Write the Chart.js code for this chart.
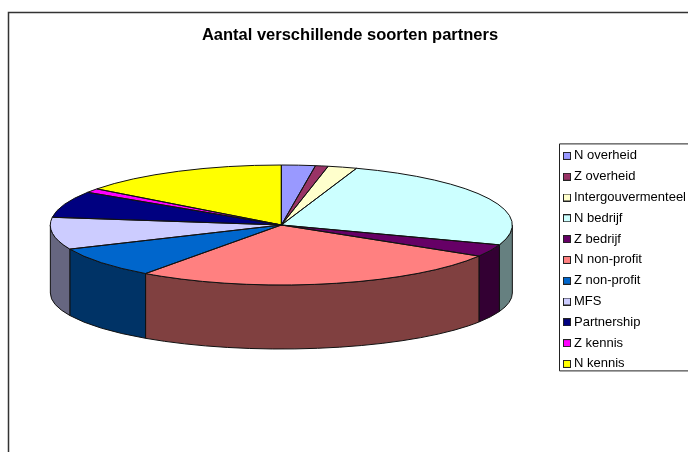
<!DOCTYPE html>
<html>
<head>
<meta charset="utf-8">
<title>Aantal verschillende soorten partners</title>
<script src="https://cdn.jsdelivr.net/npm/chart.js@4"></script>
<style>
  html, body { margin: 0; padding: 0; background: #fff; overflow: hidden; }
  canvas { display: block; }
</style>
</head>
<body>
<canvas id="chart" width="688" height="452"></canvas>
<script>
const categories = ['N overheid', 'Z overheid', 'Intergouvermenteel', 'N bedrijf', 'Z bedrijf',
  'N non-profit', 'Z non-profit', 'MFS', 'Partnership', 'Z kennis', 'N kennis'];
const partners = [8.5, 3.2, 7.3, 90.3, 11.9, 94.8, 30.3, 31.1, 25.6, 4, 53];
const topColors = ['#9999ff', '#993366', '#ffffcc', '#ccffff', '#660066',
  '#ff8080', '#0066cc', '#ccccff', '#000080', '#ff00ff', '#ffff00'];
const sideColors = ['#4d4d80', '#4d1a33', '#808066', '#668080', '#330033',
  '#804040', '#003366', '#666680', '#000040', '#800080', '#808000'];

// flattened pie: top face ellipse plus the rim below it
const tilt = 60 / 231;
const faceY = 225;
const rimBottomY = 293;
const rimBottomRy = 56;

function faceGeometry(chart) {
  const first = chart.getDatasetMeta(0).data[0];
  return { x: first.x, y: first.y, rx: first.outerRadius, ry: first.outerRadius * tilt };
}

// legend swatches as images, so they sit closer to their text
function swatch(color) {
  const c = document.createElement('canvas');
  c.width = 8;
  c.height = 8;
  const g = c.getContext('2d');
  g.fillStyle = color;
  g.fillRect(0, 0, 8, 8);
  g.strokeStyle = '#222';
  g.strokeRect(0.5, 0.5, 7, 7);
  return c;
}

const pie3d = {
  id: 'pie3d',
  beforeDraw(chart) {
    const ctx = chart.ctx;
    ctx.save();
    ctx.strokeStyle = '#333';
    ctx.lineWidth = 1.5;
    ctx.strokeRect(8.5, 12.5, 700, 500);
    // box round the legend
    const boxes = chart.legend.legendHitBoxes;
    const last = boxes[boxes.length - 1];
    ctx.beginPath();
    ctx.rect(559.5, boxes[0].top - 5.5, 140, last.top + last.height - boxes[0].top + 6);
    ctx.lineWidth = 1;
    ctx.strokeStyle = '#222';
    ctx.stroke();
    ctx.restore();
  },
  beforeDatasetsDraw(chart) {
    const ctx = chart.ctx;
    const f = faceGeometry(chart);
    ctx.save();
    ctx.strokeStyle = '#111';
    ctx.lineWidth = 1;
    chart.getDatasetMeta(0).data.forEach((arc, i) => {
      const a0 = Math.max(arc.startAngle, 0);
      const a1 = Math.min(arc.endAngle, Math.PI);
      if (a1 <= a0) return;
      ctx.beginPath();
      ctx.ellipse(f.x, faceY, f.rx, f.ry, 0, a0, a1);
      ctx.ellipse(f.x, rimBottomY, f.rx, rimBottomRy, 0, a1, a0, true);
      ctx.closePath();
      ctx.fillStyle = sideColors[i];
      ctx.fill();
      ctx.stroke();
    });
    ctx.restore();
    // library arcs get drawn squashed
    ctx.save();
    ctx.translate(f.x, faceY);
    ctx.scale(1, tilt);
    ctx.translate(-f.x, -f.y);
  },
  afterDatasetsDraw(chart) {
    const ctx = chart.ctx;
    ctx.restore();
    const f = faceGeometry(chart);
    ctx.save();
    ctx.strokeStyle = '#111';
    ctx.lineWidth = 1;
    ctx.lineJoin = 'round';
    chart.getDatasetMeta(0).data.forEach(arc => {
      ctx.beginPath();
      ctx.moveTo(f.x, faceY);
      ctx.ellipse(f.x, faceY, f.rx, f.ry, 0, arc.startAngle, arc.endAngle);
      ctx.closePath();
      ctx.stroke();
    });
    ctx.restore();
  }
};

new Chart(document.getElementById('chart'), {
  type: 'pie',
  plugins: [pie3d],
  data: {
    labels: categories,
    datasets: [{
      data: partners,
      backgroundColor: topColors,
      borderWidth: 0
    }]
  },
  options: {
    responsive: false,
    animation: false,
    radius: 231,
    layout: { padding: { left: 4, right: -8 } },
    plugins: {
      tooltip: { enabled: false },
      title: {
        display: true,
        text: 'Aantal verschillende soorten partners',
        color: '#000',
        font: { family: 'Liberation Sans', size: 16.5, weight: 'bold' },
        padding: { top: 26, bottom: 22 }
      },
      legend: {
        position: 'right',
        fullSize: false,
        labels: {
          color: '#111',
          font: { family: 'Liberation Sans', size: 13 },
          usePointStyle: true,
          pointStyleWidth: 1,
          padding: 7.8,
          generateLabels() {
            return categories.map((text, i) => ({
              text,
              pointStyle: swatch(topColors[i]),
              index: i
            }));
          }
        }
      }
    }
  }
});
</script>
</body>
</html>
